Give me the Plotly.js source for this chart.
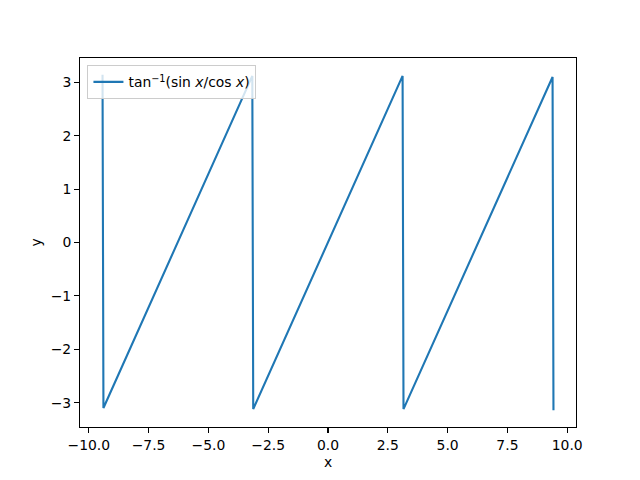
<!DOCTYPE html>
<html>
<head>
<meta charset="utf-8">
<script src="https://cdn.plot.ly/plotly-3.0.1.min.js"></script>
<style>html,body{margin:0;padding:0;background:#fff;}#chart{width:640px;height:480px;}</style>
</head>
<body>
<div id="chart"></div>
<script>
// Vertices of the sawtooth curve
const xValues = [-9.425, -9.387, -3.164, -3.126, 3.118, 3.156, 9.387, 9.425];
const yValues = [3.14, -3.10, 3.12, -3.12, 3.12, -3.12, 3.10, -3.14];
const seriesName = 'tan<sup>−1</sup>(sin <i>x</i>/cos <i>x</i>)';
const xTickVals = [-10, -7.5, -5, -2.5, 0, 2.5, 5, 7.5, 10];
const xTickText = ['−10.0', '−7.5', '−5.0', '−2.5', '0.0', '2.5', '5.0', '7.5', '10.0'];
const yTickVals = [-3, -2, -1, 0, 1, 2, 3];
const yTickText = ['−3', '−2', '−1', '0', '1', '2', '3'];

const font = {family: 'DejaVu Sans, sans-serif', size: 13.9, color: '#000'};
const axisCommon = {
  showgrid: false, zeroline: false, showline: true, mirror: true,
  linecolor: '#000', linewidth: 1.1, ticks: 'outside', ticklen: 4.9,
  tickwidth: 1.1, tickcolor: '#000', tickfont: font
};

Plotly.newPlot('chart', [{
  x: xValues, y: yValues, type: 'scatter', mode: 'lines', name: seriesName,
  line: {color: '#1f77b4', width: 2.1}
}], {
  width: 640, height: 480,
  margin: {l: 80, r: 64, t: 57.6, b: 52.8},
  paper_bgcolor: '#fff', plot_bgcolor: '#fff',
  font: font,
  showlegend: true,
  legend: {x: 0.015, y: 0.98, xanchor: 'left', yanchor: 'top',
    bgcolor: 'rgba(255,255,255,0.8)', bordercolor: '#cccccc', borderwidth: 1,
    font: font},
  xaxis: Object.assign({}, axisCommon, {range: [-10.367, 10.367],
    tickvals: xTickVals, ticktext: xTickText,
    title: {text: 'x', font: font, standoff: 5}}),
  yaxis: Object.assign({}, axisCommon, {range: [-3.456, 3.456],
    tickvals: yTickVals, ticktext: yTickText,
    title: {text: 'y', font: font, standoff: 5}})
}, {displayModeBar: false, staticPlot: true});
</script>
</body>
</html>
